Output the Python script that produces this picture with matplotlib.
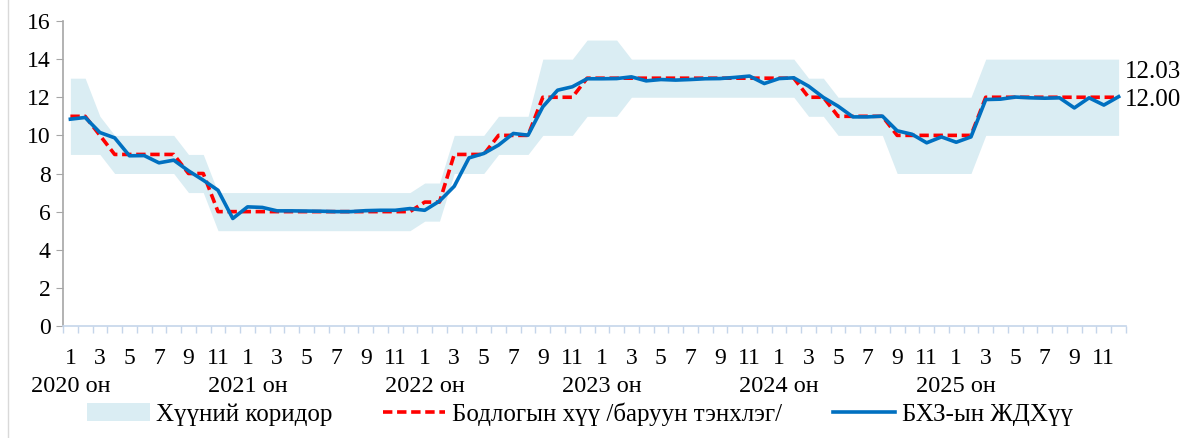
import numpy as np
import matplotlib
matplotlib.use("Agg")
import matplotlib.pyplot as plt
from matplotlib.patches import Patch
from matplotlib.lines import Line2D

years = ["2020 он", "2021 он", "2022 он", "2023 он", "2024 он", "2025 он"]
months = list(range(1, 13))

corridor_upper = [13, 13, 11, 10, 10, 10, 10, 10, 9, 9, 7, 7,
                  7, 7, 7, 7, 7, 7, 7, 7, 7, 7, 7, 7,
                  7.5, 7.5, 10, 10, 10, 11, 11, 11, 14, 14, 14, 15,
                  15, 15, 14, 14, 14, 14, 14, 14, 14, 14, 14, 14,
                  14, 14, 13, 13, 12, 12, 12, 12, 12, 12, 12, 12,
                  12, 12, 14, 14, 14, 14, 14, 14, 14, 14, 14, 14]
corridor_lower = [9, 9, 9, 8, 8, 8, 8, 8, 7, 7, 5, 5,
                  5, 5, 5, 5, 5, 5, 5, 5, 5, 5, 5, 5,
                  5.5, 5.5, 8, 8, 8, 9, 9, 9, 10, 10, 10, 11,
                  11, 11, 12, 12, 12, 12, 12, 12, 12, 12, 12, 12,
                  12, 12, 11, 11, 10, 10, 10, 10, 8, 8, 8, 8,
                  8, 8, 10, 10, 10, 10, 10, 10, 10, 10, 10, 10]
policy_rate = [11, 11, 10, 9, 9, 9, 9, 9, 8, 8, 6, 6,
               6, 6, 6, 6, 6, 6, 6, 6, 6, 6, 6, 6,
               6.5, 6.5, 9, 9, 9, 10, 10, 10, 12, 12, 12, 13,
               13, 13, 13, 13, 13, 13, 13, 13, 13, 13, 13, 13,
               13, 13, 12, 12, 11, 11, 11, 11, 10, 10, 10, 10,
               10, 10, 12, 12, 12, 12, 12, 12, 12, 12, 12, 12.00]
interbank_rate = [10.85, 10.94, 10.15, 9.87, 8.93, 8.94, 8.56, 8.70, 8.14, 7.65, 7.12, 5.64,
                  6.25, 6.22, 6.04, 6.04, 6.03, 6.02, 6.00, 6.00, 6.05, 6.07, 6.07, 6.16,
                  6.07, 6.55, 7.33, 8.82, 9.05, 9.49, 10.10, 10.01, 11.50, 12.37, 12.55, 12.97,
                  12.97, 12.98, 13.07, 12.86, 12.93, 12.90, 12.93, 12.97, 12.98, 13.04, 13.11, 12.72,
                  12.98, 13.02, 12.58, 11.99, 11.53, 10.97, 10.97, 11.01, 10.24, 10.06, 9.61, 9.92,
                  9.64, 9.92, 11.88, 11.90, 12.01, 11.97, 11.95, 11.97, 11.44, 11.97, 11.59, 12.03]

legend_labels = ["Хүүний коридор", "Бодлогын хүү /баруун тэнхлэг/", "БХЗ-ын ЖДХүү"]

FONT = "Liberation Serif"
FS = 17
plt.rcParams["font.family"] = [FONT, "DejaVu Serif"]

W, H = 1187, 438
fig = plt.figure(figsize=(W / 100, H / 100), dpi=100)
ax = fig.add_axes([63 / W, (H - 326) / H, (1126 - 63) / W, (326 - 21) / H])

n = len(interbank_rate)
x = np.arange(n)
band_c = "#DAEDF3"
red_c = "#FF0000"
blue_c = "#0070C0"

ax.fill_between(x, corridor_lower, corridor_upper, color=band_c, lw=0, zorder=1)
ax.plot(x, policy_rate, color=red_c, lw=2.6, dashes=(2.6, 1.3), zorder=2)
ax.plot(x, interbank_rate, color=blue_c, lw=2.6, zorder=3, solid_joinstyle="round")

ax.set_xlim(-0.5, n - 0.5)
ax.set_ylim(0, 16)
ax.set_yticks(np.arange(0, 17, 2))
ax.tick_params(axis="y", direction="out", length=5, color="#A6A6A6",
               labelsize=FS, pad=4)

month_labels = []
for yi in range(len(years)):
    for m in months:
        month_labels.append(str(m) if m % 2 == 1 else "")
ax.set_xticks(x)
ax.set_xticklabels(month_labels, fontsize=FS)
ax.tick_params(axis="x", which="major", length=0, pad=16)
ax.set_xticks(np.arange(-0.5, n, 1), minor=True)
ax.tick_params(axis="x", which="minor", direction="out", length=5, color="#C5D5EA", width=1)

for yi, yl in enumerate(years):
    ax.annotate(yl, xy=(yi * 12, 0), xycoords=("data", "axes fraction"),
                xytext=(0, -61 * 0.72), textcoords="offset points",
                ha="center", va="center", fontsize=17.5)

for s in ["top", "right"]:
    ax.spines[s].set_visible(False)
ax.spines["left"].set_color("#A6A6A6")
ax.spines["left"].set_linewidth(1.2)
ax.spines["bottom"].set_color("#C5D5EA")
ax.spines["bottom"].set_linewidth(1.2)

# end labels
ax.text(1125 / W, (H - 72) / H, f"{interbank_rate[-1]:.2f}", transform=fig.transFigure,
        ha="left", va="center", fontsize=18)
ax.text(1125 / W, (H - 100) / H, f"{policy_rate[-1]:.2f}", transform=fig.transFigure,
        ha="left", va="center", fontsize=18)

handles = [Patch(facecolor=band_c, edgecolor="none"),
           Line2D([], [], color=red_c, lw=2.6, dashes=(2.6, 1.3)),
           Line2D([], [], color=blue_c, lw=2.6)]
fig.legend(handles, legend_labels, loc="center left", bbox_to_anchor=(87 / W, (H - 414) / H),
           ncol=3, frameon=False, fontsize=18, handlelength=2.5, handleheight=0.7,
           handletextpad=0.28, columnspacing=2.0, borderaxespad=0, borderpad=0)

fig.add_artist(Line2D([8 / W, 8 / W], [0, 1], color="#D9D9D9", lw=1.0))

fig.savefig("out.png", dpi=100)
